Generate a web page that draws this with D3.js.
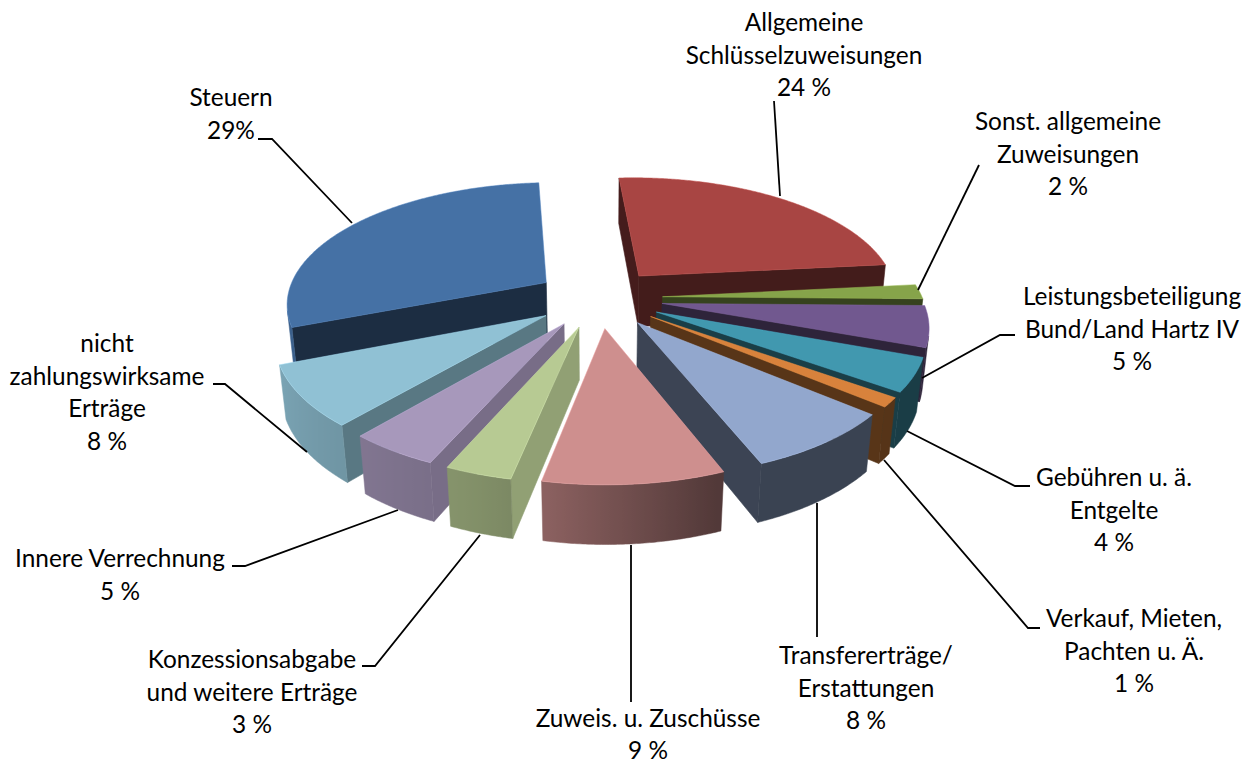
<!DOCTYPE html>
<html><head><meta charset="utf-8">
<script src="https://cdn.jsdelivr.net/npm/d3@7"></script>
<style>html,body{margin:0;padding:0;background:#fff}svg{display:block}
text{font-family:Lato,"Open Sans",sans-serif;font-size:24.4px;fill:#000;text-anchor:middle}</style>
</head><body><svg id="c" width="1248" height="760"></svg>
<script>
// --- data (clockwise from the top of the pie); shares in percent, estimated from the wedges ---
const categories = ["Allgemeine Schlüsselzuweisungen","Sonst. allgemeine Zuweisungen","Leistungsbeteiligung Bund/Land Hartz IV","Gebühren u. ä. Entgelte","Verkauf, Mieten, Pachten u. Ä.","Transfererträge/ Erstattungen","Zuweis. u. Zuschüsse","Konzessionsabgabe und weitere Erträge","Innere Verrechnung","nicht zahlungswirksame Erträge","Steuern"];
const values = [24.4,1.9,5.3,4.3,1.2,7.9,9.2,3.4,4.6,7.8,29.9];
const valueLabels = ["24 %","2 %","5 %","4 %","1 %","8 %","9 %","3 %","5 %","8 %","29%"];
const colors = ["#A84543","#86A44A","#71588F","#4198AF","#D8823C","#92A7CD","#CE8F8E","#B7CA93","#A798BB","#90C1D4","#4571A5"];
const labelLines = [["Allgemeine","Schlüsselzuweisungen"],["Sonst. allgemeine","Zuweisungen"],["Leistungsbeteiligung","Bund/Land Hartz IV"],["Gebühren u. ä.","Entgelte"],["Verkauf, Mieten,","Pachten u. Ä."],["Transfererträge/","Erstattungen"],["Zuweis. u. Zuschüsse"],["Konzessionsabgabe","und weitere Erträge"],["Innere Verrechnung"],["nicht","zahlungswirksame","Erträge"],["Steuern"]];

// --- layout: label anchor [x, first baseline] and leader polyline ---
const labelPos = [[804,31],[1068,130],[1132,305],[1114,486],[1134,627],[866,664],[648,726.5],[252,668],[120,567],[107,352],[231,106]];
const leaders = [
 [[774,101],[780,196]],
 [[979,165],[918,290]],
 [[1015,335],[1000,335],[922,378]],
 [[1030,486],[1015,486],[907,431]],
 [[1040,628],[1028,628],[884,460]],
 [[817,637],[817,503]],
 [[631,702],[631,545]],
 [[362,666],[375,666],[480,535]],
 [[232,566],[245,566],[398,510]],
 [[213,384],[225,384],[307,452]],
 [[258,139],[272,139],[352,223]]
];

// --- projection ---
const CX=599, CY=298, EXPLODE=0.245, H=0.228;
const ELEV=27.6*Math.PI/180, S=Math.sin(ELEV), C=Math.cos(ELEV), D=5.56, F=1445;
function project(u,v,z){const Y=v*S+z*C, Z=D+v*C-z*S; return [CX+F*u/Z, CY-F*Y/Z];}

const svg=d3.select("#c");
const defs=svg.append("defs");
const deg=r=>r*180/Math.PI;
const start=-3.8*Math.PI/180;
const pie=d3.pie().sort(null).startAngle(start).endAngle(start+2*Math.PI);
const arcs=pie(values);
const wallShade=d3.scaleLinear().domain([160,190,200,248,360]).range([.4,.67,.72,.85,.85]).clamp(true);
const sideShade=d3.scaleLinear().domain([100,129,158,360]).range([.8,.63,.4,.42]).clamp(true);
const shadeBy=(col,k)=>{const c=d3.rgb(col);return d3.rgb(c.r*k,c.g*k,c.b*k).formatHex();};
const line=d3.line().curve(d3.curveLinearClosed);
const area=p=>d3.sum(p,(q,i)=>{const n=p[(i+1)%p.length];return q[0]*n[1]-n[0]*q[1];});
const norm=d=>((d%360)+360)%360;

const slices=arcs.map((a,i)=>{const mid=(a.startAngle+a.endAngle)/2;
  return {a,i,mid,ox:EXPLODE*Math.sin(mid),oy:EXPLODE*Math.cos(mid)};});
slices.sort((p,q)=>q.oy-p.oy);

const g=svg.append("g");
slices.forEach(s=>{
  const col=colors[s.i];
  const pt=(ang,r,z)=>project(s.ox+r*Math.sin(ang),s.oy+r*Math.cos(ang),z);
  const quad=(ang)=>[pt(ang,0,0),pt(ang,1,0),pt(ang,1,-H),pt(ang,0,-H)];
  const drawFace=(p,fill)=>g.append("path").attr("d",line(p)).attr("fill",fill).attr("stroke",fill).attr("stroke-width",.6).attr("stroke-linejoin","round");
  // side faces
  const qs=quad(s.a.startAngle), qe=quad(s.a.endAngle);
  if(area(qs)<0) drawFace(qs,shadeBy(col,sideShade(norm(deg(s.a.startAngle)-90))));
  if(area(qe)>0) drawFace(qe,shadeBy(col,sideShade(norm(deg(s.a.endAngle)+90))));
  // outer wall: visible part, with a horizontal gradient shaded by direction
  const n=Math.max(4,2*Math.ceil(deg(s.a.endAngle-s.a.startAngle)));
  const angs=d3.range(n+1).map(k=>s.a.startAngle+(s.a.endAngle-s.a.startAngle)*k/n);
  const vis=d3.pairs(angs).filter(([a0,a1])=>area([pt(a0,1,0),pt(a1,1,0),pt(a1,1,-H),pt(a0,1,-H)])<0);
  if(vis.length){
    const as=[vis[0][0]].concat(vis.map(d=>d[1]));
    const poly=as.map(a=>pt(a,1,0)).concat(as.slice().reverse().map(a=>pt(a,1,-H)));
    const xs=as.map(a=>pt(a,1,0)[0]); const x0=d3.min(xs), x1=d3.max(xs);
    const id="w"+s.i;
    const lg=defs.append("linearGradient").attr("id",id).attr("gradientUnits","userSpaceOnUse").attr("x1",x0).attr("x2",x1).attr("y1",0).attr("y2",0);
    as.map((a,k)=>({o:(xs[k]-x0)/(x1-x0||1),c:shadeBy(col,wallShade(norm(deg(a))))})).sort((p,q)=>p.o-q.o)
      .forEach(d=>lg.append("stop").attr("offset",d.o).attr("stop-color",d.c));
    g.append("path").attr("d",line(poly)).attr("fill",`url(#${id})`).attr("stroke",`url(#${id})`).attr("stroke-width",.5);
  }
  // top face
  const top=[pt(0,0,0)].concat(angs.map(a=>pt(a,1,0)));
  g.append("path").attr("d",line(top)).attr("fill",col).attr("stroke",d3.rgb(col).brighter(.4).formatHex()).attr("stroke-width",.5).attr("stroke-linejoin","round");
});

// leaders
const open=d3.line();
svg.append("g").selectAll("path").data(leaders).join("path").attr("d",d=>open(d)).attr("fill","none").attr("stroke","#000").attr("stroke-width",1.8);

// labels
const lh=32.7;
categories.forEach((c,i)=>{
  const t=svg.append("text").attr("x",labelPos[i][0]).attr("y",labelPos[i][1]).attr("aria-label",c);
  labelLines[i].concat([valueLabels[i]]).forEach((l,k)=>t.append("tspan").attr("x",labelPos[i][0]).attr("y",labelPos[i][1]+k*lh).text(l));
});
</script></body></html>
